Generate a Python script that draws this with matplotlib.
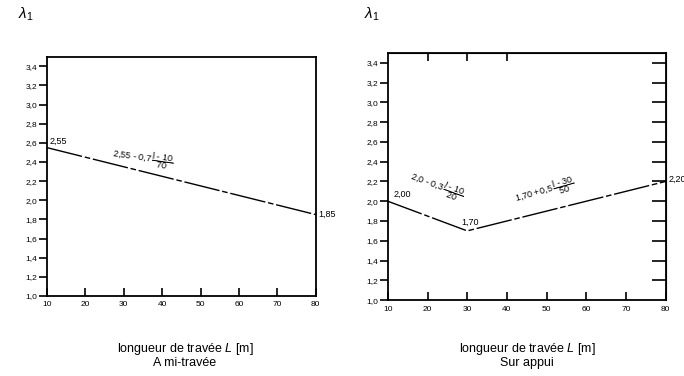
import numpy as np
import matplotlib
matplotlib.use('Agg')
import matplotlib.pyplot as plt

plt.rcParams['font.family'] = ['Liberation Sans', 'DejaVu Sans']
plt.rcParams['mathtext.fontset'] = 'custom'
plt.rcParams['mathtext.rm'] = 'Liberation Sans'
plt.rcParams['mathtext.it'] = 'Liberation Sans:italic'

# lambda_1 en fonction de la longueur de travée
L_mi = [10, 80]
lam_mi = [2.55, 1.85]
L_appui = [10, 30, 80]
lam_appui = [2.00, 1.70, 2.20]

xticks = [10, 20, 30, 40, 50, 60, 70, 80]
yticks = [1.0, 1.2, 1.4, 1.6, 1.8, 2.0, 2.2, 2.4, 2.6, 2.8, 3.0, 3.2, 3.4]

def fmt(v, n):
    return ('%.*f' % (n, v)).replace('.', ',')

fig = plt.figure(figsize=(6.84, 3.76), dpi=100)
ax1 = fig.add_axes([0.0687, 0.213, 0.393, 0.636])
ax2 = fig.add_axes([0.567, 0.202, 0.406, 0.657])

for ax in (ax1, ax2):
    ax.set_xlim(10, 80)
    ax.set_ylim(1.0, 3.5)
    ax.set_xticks(xticks)
    ax.set_xticklabels([str(t) for t in xticks], fontsize=6)
    ax.set_yticks(yticks)
    ax.set_yticklabels([fmt(t, 1) for t in yticks], fontsize=6)
    ax.tick_params(axis='y', direction='out', length=6, width=1.2, pad=1)
    ax.tick_params(axis='x', direction='in', length=6, width=1.2, pad=4)
    for s in ax.spines.values():
        s.set_linewidth(1.3)

# ticks internes à droite et en haut (sur appui)
ax2r = ax2.secondary_yaxis('right')
ax2r.set_yticks(yticks[1:])
ax2r.tick_params(direction='in', length=10, width=1.2, labelright=False)
ax2t = ax2.secondary_xaxis('top')
ax2t.set_xticks(xticks[1:4])
ax2t.tick_params(direction='in', length=6, width=1.2, labeltop=False)

dash = (26, 2, 4, 2)
ax1.plot(L_mi, lam_mi, color='black', lw=1.0, dashes=dash)
ax2.plot(L_appui, lam_appui, color='black', lw=1.0, dashes=dash)

# valeurs
ax1.text(L_mi[0] + 0.6, lam_mi[0] + 0.02, fmt(lam_mi[0], 2), fontsize=6.5, ha='left', va='bottom')
ax1.text(L_mi[1] + 0.6, lam_mi[1], fmt(lam_mi[1], 2), fontsize=6.5, ha='left', va='center', clip_on=False)
ax2.text(L_appui[0] + 1.5, lam_appui[0] + 0.02, fmt(lam_appui[0], 2), fontsize=6.5, ha='left', va='bottom')
ax2.text(L_appui[1] - 1.5, lam_appui[1] + 0.04, fmt(lam_appui[1], 2), fontsize=6.5, ha='left', va='bottom')
ax2.text(L_appui[2] + 0.8, lam_appui[2] + 0.02, fmt(lam_appui[2], 2), fontsize=6.5, ha='left', va='center', clip_on=False)

# formules
ax1.text(35, 2.44, r'$2{,}55\ \text{-}\ 0{,}7\,\dfrac{\text{l - 10}}{70}$', fontsize=6.5,
         rotation=-8, ha='center', va='center')
ax2.text(22.3, 2.15, r'$\mathit{2{,}0}\ \text{-}\ \mathit{0{,}3}\,\dfrac{\mathit{l}\ \text{-}\ \mathit{10}}{\mathit{20}}$',
         fontsize=6.5, rotation=-20, ha='center', va='center')
ax2.text(49.5, 2.10, r'$1{,}70 + 0{,}5\,\dfrac{\text{l - 30}}{50}$', fontsize=6.5,
         rotation=16, ha='center', va='center')

fig.text(18 / 684, 1 - 14 / 376, r'$\lambda_1$', fontsize=11, ha='left', va='center')
fig.text(364 / 684, 1 - 14 / 376, r'$\lambda_1$', fontsize=11, ha='left', va='center')

fig.text(185 / 684, 1 - 355 / 376, 'longueur de travée $L$ [m]\nA mi-travée', fontsize=9,
         ha='center', va='center', linespacing=1.1)
fig.text(527 / 684, 1 - 355 / 376, 'longueur de travée $L$ [m]\nSur appui', fontsize=9,
         ha='center', va='center', linespacing=1.1)

fig.savefig('out.png', dpi=100)
